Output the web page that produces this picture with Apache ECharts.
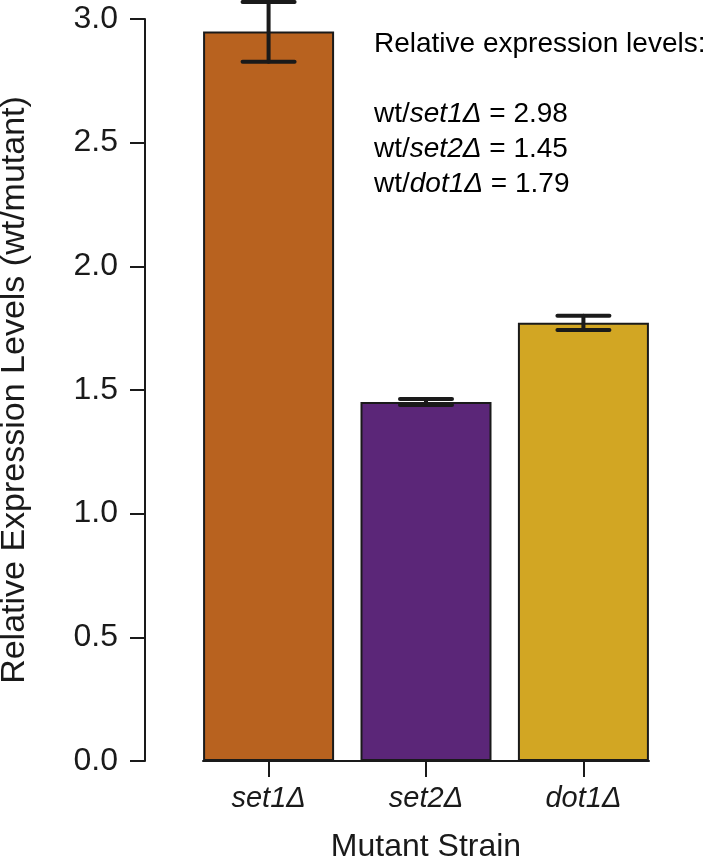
<!DOCTYPE html>
<html>
<head>
<meta charset="utf-8">
<script src="https://cdn.jsdelivr.net/npm/echarts@6/dist/echarts.min.js"></script>
<style>
html,body{margin:0;padding:0;background:#fff;}
#chart{width:712px;height:858px;}
</style>
</head>
<body>
<div id="chart"></div>
<script>
// ---- data ----
var categories = ['set1Δ', 'set2Δ', 'dot1Δ'];
var meanValues = [2.949, 1.451, 1.772];
var errLow = [2.827, 1.439, 1.743];
var errHigh = [3.069, 1.464, 1.800];
var ratioLabels = ['2.98', '1.45', '1.79'];
var yTicks = [0, 0.5, 1.0, 1.5, 2.0, 2.5, 3.0];
var barColors = ['#B8621F', '#5B2678', '#D2A623'];

// R barplot-style positions (width 1, space 0.2)
var positions = categories.map(function (c, i) { return 0.7 + i * 1.2; });

var FONT = '"Liberation Sans", Arial, Helvetica, sans-serif';
var INK = '#1a1a1a';

var barData = meanValues.map(function (v, i) {
  return { value: [positions[i], v], itemStyle: { color: barColors[i] } };
});
var errData = categories.map(function (c, i) {
  return [positions[i], errLow[i], errHigh[i]];
});

var annot = '{n|Relative expression levels:}\n{n| }\n' + categories.map(function (c, i) {
  return '{n|wt/}{i|' + c + '}{n| = ' + ratioLabels[i] + '}';
}).join('\n');

var chart = echarts.init(document.getElementById('chart'), null, { renderer: 'canvas' });
chart.setOption({
  animation: false,
  backgroundColor: '#fff',
  grid: { left: 203, right: 63, top: 19, bottom: 97, containLabel: false, outerBoundsMode: 'none' },
  xAxis: {
    type: 'value',
    min: 0.2,
    max: 3.6,
    name: 'Mutant Strain',
    nameLocation: 'middle',
    nameGap: 70,
    nameTextStyle: { fontFamily: FONT, fontSize: 32, color: INK },
    axisLine: { show: true, onZero: false, lineStyle: { color: INK, width: 2 } },
    axisTick: { show: true, inside: false, length: 16, customValues: positions, lineStyle: { color: INK, width: 2 } },
    axisLabel: {
      show: true,
      customValues: positions,
      margin: 23,
      fontFamily: FONT, fontSize: 29, fontStyle: 'italic', color: INK,
      formatter: function (v) {
        for (var i = 0; i < positions.length; i++) {
          if (Math.abs(positions[i] - v) < 1e-6) return categories[i];
        }
        return '';
      }
    },
    splitLine: { show: false }
  },
  yAxis: {
    type: 'value',
    min: 0,
    max: 3,
    interval: 0.5,
    offset: 58,
    name: 'Relative Expression Levels (wt/mutant)',
    nameLocation: 'middle',
    nameGap: 113,
    nameTextStyle: { fontFamily: FONT, fontSize: 34, color: INK },
    axisLine: { show: true, lineStyle: { color: INK, width: 2 } },
    axisTick: { show: true, inside: false, length: 15, lineStyle: { color: INK, width: 2 } },
    axisLabel: {
      margin: 27,
      fontFamily: FONT, fontSize: 32, color: INK,
      customValues: yTicks,
      formatter: function (v) { return Number(v).toFixed(1); }
    },
    splitLine: { show: false }
  },
  graphic: [{
    type: 'text',
    left: 374,
    top: 27,
    style: {
      text: annot,
      lineHeight: 35,
      rich: {
        n: { fontFamily: FONT, fontSize: 28, color: INK, lineHeight: 35 },
        i: { fontFamily: FONT, fontSize: 28, fontStyle: 'italic', color: INK, lineHeight: 35 }
      }
    }
  }],
  series: [
    {
      type: 'bar',
      data: barData,
      barWidth: 131,
      itemStyle: { borderColor: INK, borderWidth: 2 },
      z: 2
    },
    {
      type: 'custom',
      data: errData,
      z: 5,
      renderItem: function (params, api) {
        var x = api.value(0);
        var lo = api.coord([x, api.value(1)]);
        var hi = api.coord([x, api.value(2)]);
        var hw = 26;
        var st = { stroke: INK, lineWidth: 4, lineCap: 'round' };
        return {
          type: 'group',
          children: [
            { type: 'line', shape: { x1: lo[0], y1: lo[1], x2: hi[0], y2: hi[1] }, style: st },
            { type: 'line', shape: { x1: lo[0] - hw, y1: lo[1], x2: lo[0] + hw, y2: lo[1] }, style: st },
            { type: 'line', shape: { x1: hi[0] - hw, y1: hi[1], x2: hi[0] + hw, y2: hi[1] }, style: st }
          ]
        };
      }
    }
  ]
});
</script>
</body>
</html>
